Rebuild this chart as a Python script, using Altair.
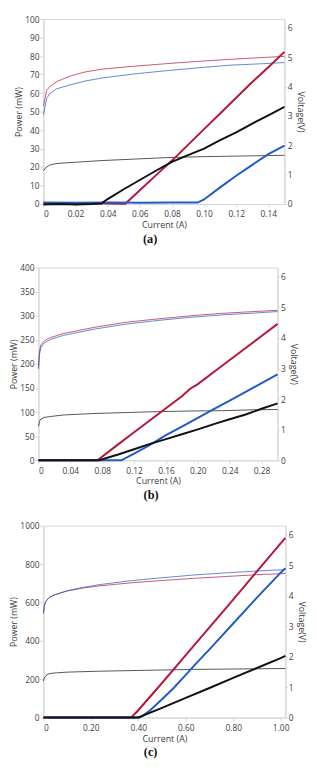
import altair as alt
import pandas as pd

# ---------------- data (current in A, power in mW, voltage in V) ----------------
# Panel (a)
a_red_power = [(0, 0.5), (0.01, 0.6), (0.02, 0.4), (0.03, 0.5), (0.04, 0.3), (0.05, 0.2), (0.051, 0.2),
               (0.06, 7.5), (0.07, 15.5), (0.08, 23.5), (0.09, 32), (0.10, 40.5), (0.11, 49),
               (0.12, 57.5), (0.13, 66), (0.14, 74), (0.15, 82.3)]
a_black_power = [(0, -0.2), (0.01, 0), (0.02, -0.3), (0.03, 0), (0.036, 0.3), (0.04, 2.7), (0.05, 8),
                 (0.06, 13), (0.07, 18), (0.08, 22.8), (0.09, 26.5), (0.10, 30), (0.11, 34.5),
                 (0.12, 38.8), (0.13, 43.5), (0.14, 48), (0.15, 52.6)]
a_blue_power = [(0, 0.8), (0.02, 0.7), (0.04, 0.9), (0.06, 0.7), (0.08, 0.8), (0.096, 0.8), (0.10, 2.5),
                (0.11, 9), (0.12, 15.3), (0.13, 21.2), (0.14, 27), (0.15, 31.6)]
a_red_volt = [(0, 3.33), (0.002, 3.87), (0.004, 4.0), (0.008, 4.16), (0.016, 4.35), (0.026, 4.5),
              (0.036, 4.59), (0.051, 4.67), (0.076, 4.78), (0.096, 4.86), (0.116, 4.93), (0.136, 4.99),
              (0.15, 5.03)]
a_blue_volt = [(0, 3.04), (0.002, 3.6), (0.004, 3.76), (0.008, 3.92), (0.016, 4.05), (0.026, 4.19),
               (0.036, 4.29), (0.056, 4.43), (0.076, 4.54), (0.096, 4.64), (0.116, 4.73), (0.136, 4.78),
               (0.15, 4.82)]
a_black_volt = [(0, 1.14), (0.002, 1.26), (0.004, 1.33), (0.008, 1.38), (0.016, 1.41), (0.036, 1.48),
                (0.056, 1.53), (0.076, 1.58), (0.096, 1.61), (0.116, 1.63), (0.15, 1.66)]

# Panel (b)
b_red_power = [(0, 0), (0.074, 0), (0.10, 33), (0.12, 58), (0.14, 83), (0.16, 108), (0.18, 133),
               (0.19, 148), (0.20, 158), (0.22, 183), (0.24, 208), (0.26, 233), (0.28, 258), (0.30, 283)]
b_blue_power = [(0, 0), (0.104, 0), (0.12, 14), (0.14, 32), (0.16, 52), (0.18, 70), (0.20, 88),
                (0.22, 106), (0.24, 124), (0.26, 142), (0.28, 160), (0.30, 178)]
b_black_power = [(0, 0), (0.076, 0), (0.10, 12), (0.12, 23), (0.14, 34), (0.16, 44), (0.18, 54),
                 (0.20, 64), (0.22, 75), (0.24, 85), (0.26, 95), (0.27, 101), (0.28, 107), (0.30, 118)]
b_volt_x = [0, 0.0012, 0.003, 0.007, 0.015, 0.031, 0.071, 0.11, 0.15, 0.19, 0.23, 0.27, 0.30]
b_red_volt = [3.03, 3.56, 3.77, 3.9, 4.01, 4.14, 4.35, 4.51, 4.62, 4.72, 4.8, 4.86, 4.9]
b_blue_volt = [2.98, 3.45, 3.68, 3.83, 3.95, 4.08, 4.29, 4.45, 4.57, 4.67, 4.75, 4.81, 4.86]
b_black_volt = [1.11, 1.27, 1.35, 1.4, 1.43, 1.48, 1.53, 1.56, 1.59, 1.61, 1.62, 1.65, 1.66]

# Panel (c)
c_red_power = [(0, 0), (0.37, 0), (0.40, 38), (0.50, 180), (0.60, 325), (0.70, 470), (0.80, 615),
               (0.90, 762), (1.00, 908), (1.02, 936)]
c_blue_power = [(0.02, 0), (0.405, 0), (0.42, 10), (0.45, 38), (0.50, 95), (0.55, 155), (0.60, 222),
                (0.65, 290), (0.70, 355), (0.80, 490), (0.90, 625), (1.00, 755), (1.02, 778)]
c_black_power = [(0, 0), (0.40, 0), (0.50, 50), (0.60, 102), (0.70, 154), (0.80, 207), (0.90, 258),
                 (1.00, 310), (1.02, 321)]
c_volt_x = [0, 0.004, 0.011, 0.024, 0.044, 0.098, 0.165, 0.232, 0.365, 0.5, 0.633, 0.767, 0.9, 1.02]
c_red_volt = [3.42, 3.68, 3.82, 3.94, 4.02, 4.15, 4.25, 4.32, 4.42, 4.5, 4.57, 4.63, 4.69, 4.73]
c_blue_volt = [3.42, 3.68, 3.82, 3.94, 4.02, 4.16, 4.27, 4.36, 4.49, 4.59, 4.68, 4.75, 4.81, 4.86]
c_black_volt_x = [0, 0.004, 0.011, 0.024, 0.044, 0.098, 0.232, 0.365, 0.5, 0.633, 0.767, 0.9, 1.02]
c_black_volt = [1.2, 1.3, 1.38, 1.44, 1.46, 1.49, 1.52, 1.54, 1.56, 1.58, 1.59, 1.6, 1.61]

series_names = ["red", "blue", "black"]
series_colors = ["#B5163C", "#1F5CC6", "#111111"]

FONT = "Open Sans"
GRAY = "#404040"
LINE = "#d6d6d6"


def frame(pairs_by_series):
    rows = []
    for name, pairs in pairs_by_series.items():
        for i, (x, y) in enumerate(pairs):
            rows.append({"s": name, "x": x, "y": y, "i": i})
    return pd.DataFrame(rows)


def panel(power, volt, xdom, xvals, pdom, pvals, w, h, cap, cap_dx):
    color = alt.Color("s:N", scale=alt.Scale(domain=series_names, range=series_colors), legend=None)
    xenc = alt.X("x:Q", scale=alt.Scale(domain=xdom, nice=False, zero=False),
                 axis=alt.Axis(title="Current (A)", values=xvals, tickSize=3, labelPadding=3,
                               titlePadding=2.5,
                               labelExpr="datum.value == 0 ? '0' : format(datum.value, '.2f')"))
    vl = alt.Chart(frame(volt)).mark_line(strokeWidth=1, opacity=0.72).encode(
        x=xenc,
        y=alt.Y("y:Q", scale=alt.Scale(domain=[0, 6.3], nice=False),
                axis=alt.Axis(title="Voltage(V)", orient="right", values=[0, 1, 2, 3, 4, 5, 6],
                              tickSize=2, labelPadding=1, titlePadding=3.5)),
        color=color, order="i:Q")
    pl = alt.Chart(frame(power)).mark_line(strokeWidth=2).encode(
        x=xenc,
        y=alt.Y("y:Q", scale=alt.Scale(domain=pdom, nice=False),
                axis=alt.Axis(title="Power (mW)", orient="left", values=pvals, format="d",
                              tickSize=4, labelPadding=0.5, titlePadding=1)),
        color=color, order="i:Q")
    return alt.layer(vl, pl).resolve_scale(y="independent").properties(
        width=w, height=h,
        title=alt.TitleParams(text=cap, orient="bottom", font="Liberation Serif", fontSize=12.5,
                              fontWeight="bold", color="#111111", frame="group", dx=cap_dx, offset=3.5))


def spacer(w):
    return alt.Chart(alt.Data(values=[])).mark_point().properties(
        width=w, height=1, view=alt.ViewBackground(strokeOpacity=0))


pa = panel({"red": a_red_power, "blue": a_blue_power, "black": a_black_power},
           {"red": a_red_volt, "blue": a_blue_volt, "black": a_black_volt},
           [0, 0.15], [0, 0.02, 0.04, 0.06, 0.08, 0.10, 0.12, 0.14],
           [0, 100], list(range(0, 101, 10)), 245, 188, "(a)", -14)
pb = panel({"red": b_red_power, "blue": b_blue_power, "black": b_black_power},
           {"red": list(zip(b_volt_x, b_red_volt)), "blue": list(zip(b_volt_x, b_blue_volt)),
            "black": list(zip(b_volt_x, b_black_volt))},
           [0, 0.30], [0, 0.04, 0.08, 0.12, 0.16, 0.20, 0.24, 0.28],
           [0, 400], list(range(0, 401, 50)), 243, 196, "(b)", -7)
pc = panel({"red": c_red_power, "blue": c_blue_power, "black": c_black_power},
           {"red": list(zip(c_volt_x, c_red_volt)), "blue": list(zip(c_volt_x, c_blue_volt)),
            "black": list(zip(c_black_volt_x, c_black_volt))},
           [0, 1.02], [0, 0.2, 0.4, 0.6, 0.8, 1.0],
           [0, 1000], list(range(0, 1001, 200)), 246, 195, "(c)", -14)

row_a = alt.hconcat(spacer(6), pa, spacing=0)
row_b = alt.hconcat(spacer(1), pb, spacing=0)
row_c = alt.hconcat(spacer(1), pc, spacing=0)

chart = alt.vconcat(
    alt.vconcat(row_a, row_b, spacing=16.5),
    row_c,
    spacing=19,
).properties(padding={"left": 0, "top": 0, "right": 3, "bottom": 0}).configure_view(
    stroke=LINE
).configure_axis(
    labelFont=FONT, labelFontSize=8.5, labelColor=GRAY, titleFont=FONT, titleFontSize=9,
    titleFontWeight="normal", titleColor=GRAY, domainColor=LINE, tickColor=LINE, grid=False
).configure_title(anchor="middle")

chart.save("out.html", embed_options={"renderer": "svg", "actions": False})
